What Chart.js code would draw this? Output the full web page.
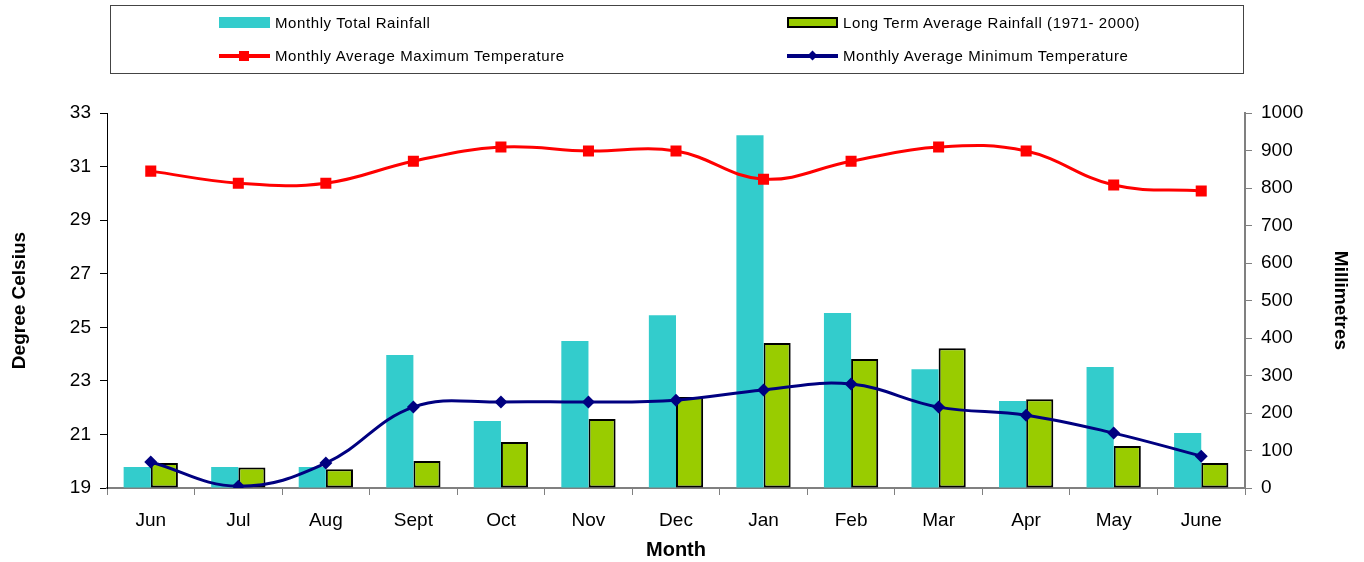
<!DOCTYPE html>
<html>
<head>
<meta charset="utf-8">
<script src="https://cdn.jsdelivr.net/npm/chart.js@4/dist/chart.umd.min.js"></script>
<style>
  html, body { margin: 0; padding: 0; background: #fff; }
  #wrap { position: relative; width: 1364px; height: 562px; }
  #legend {
    position: absolute; left: 110px; top: 5px; width: 1134px; height: 69px;
    border: 1px solid #444; box-sizing: border-box;
    font-family: "Liberation Sans", Arial, sans-serif; font-size: 15px; letter-spacing: 0.6px; color: #000;
  }
  .item { position: absolute; height: 16px; line-height: 16px; white-space: nowrap; }
  .sw { position: absolute; left: 0; top: 2px; width: 51px; height: 11px; box-sizing: border-box; }
  .ln { position: absolute; left: 0; top: 6px; width: 51px; height: 4px; }
  .mk { position: absolute; left: 20px; }
  .txt { position: absolute; left: 56px; top: 0; }
</style>
</head>
<body>
<div id="wrap">
  <canvas id="chart_1" width="1364" height="562"></canvas>
  <div id="legend"></div>
</div>
<script>
console.log("draw rainfall / temperature chart");

var months = ['Jun', 'Jul', 'Aug', 'Sept', 'Oct', 'Nov', 'Dec', 'Jan', 'Feb', 'Mar', 'Apr', 'May', 'June'];
var totalRainfall = [56, 56, 56, 355, 179, 392, 461, 941, 467, 317, 232, 323, 147];
var avgRainfall = [67, 55, 50, 72, 123, 184, 243, 387, 344, 373, 237, 112, 67];
var maxTemp = [30.83, 30.38, 30.38, 31.2, 31.73, 31.58, 31.58, 30.53, 31.2, 31.73, 31.58, 30.31, 30.09];
var minTemp = [19.97, 19.07, 19.93, 22.02, 22.21, 22.21, 22.28, 22.66, 22.88, 22.02, 21.72, 21.05, 20.19];
var celsiusTicks = [19, 21, 23, 25, 27, 29, 31, 33];
var mmTicks = [0, 100, 200, 300, 400, 500, 600, 700, 800, 900, 1000];

var FONT = '"Liberation Sans", Arial, sans-serif';

function drawChart_1() {
  var ctx_1 = document.getElementById("chart_1").getContext('2d');
  var chart_1 = new Chart(ctx_1, {
    type: 'bar',
    data: {
      labels: months,
      datasets: [{
          type: 'line',
          label: 'Monthly Average Maximum Temperature',
          data: maxTemp,
          yAxisID: 'yT',
          borderColor: '#FF0000',
          backgroundColor: '#FF0000',
          borderWidth: 3,
          tension: 0.4,
          pointStyle: 'rect',
          pointRadius: 7.8,
          pointBorderWidth: 0,
          order: 0
        },
        {
          type: 'line',
          label: 'Monthly Average Minimum Temperature',
          data: minTemp,
          yAxisID: 'yT',
          borderColor: '#000080',
          backgroundColor: '#000080',
          borderWidth: 3,
          tension: 0.4,
          pointStyle: 'rectRot',
          pointRadius: 6.5,
          pointBorderWidth: 0,
          order: 1
        },
        {
          label: 'Monthly Total Rainfall',
          data: totalRainfall,
          yAxisID: 'yR',
          backgroundColor: '#33CCCC',
          borderWidth: 0,
          categoryPercentage: 0.62,
          barPercentage: 1.0,
          order: 2
        },
        {
          label: 'Long Term Average Rainfall (1971- 2000)',
          data: avgRainfall,
          yAxisID: 'yR',
          backgroundColor: '#99CC00',
          borderColor: '#000000',
          borderWidth: 2,
          borderSkipped: false,
          categoryPercentage: 0.62,
          barPercentage: 1.0,
          order: 3
        }]
    },
    options: {
      responsive: false,
      animation: false,
      layout: { padding: { left: 0, right: 0, top: 113, bottom: 0 } },
      plugins: { legend: { display: false }, tooltip: { enabled: false } },
      scales: {
        x: {
          grid: { drawOnChartArea: false, drawTicks: true, tickLength: 7, color: '#808080' },
          border: { color: '#808080', width: 2 },
          ticks: { color: '#000', font: { family: FONT, size: 19 }, padding: 14, maxRotation: 0, autoSkip: false },
          title: { display: true, text: 'Month', color: '#000', font: { family: FONT, size: 20, weight: 'bold' }, padding: { top: 0, bottom: 0 } },
          afterFit: function(s) { s.height = 74; }
        },
        yT: {
          position: 'left',
          min: 19, max: 33,
          afterBuildTicks: function(s) { s.ticks = celsiusTicks.map(function(v) { return { value: v }; }); },
          grid: { drawOnChartArea: false, tickLength: 7, color: '#000' },
          border: { color: '#000', width: 1 },
          ticks: { color: '#000', font: { family: FONT, size: 19 }, padding: 9, callback: function(v) { return String(v); } },
          title: { display: true, text: 'Degree Celsius', color: '#000', font: { family: FONT, size: 19, weight: 'bold' }, padding: { top: 8, bottom: 0 } },
          afterFit: function(s) { s.width = 107; }
        },
        yR: {
          position: 'right',
          min: 0, max: 1000,
          afterBuildTicks: function(s) { s.ticks = mmTicks.map(function(v) { return { value: v }; }); },
          grid: { drawOnChartArea: false, tickLength: 7, color: '#808080' },
          border: { color: '#808080', width: 2 },
          ticks: { color: '#000', font: { family: FONT, size: 19 }, padding: 9, callback: function(v) { return String(v); } },
          title: { display: true, text: 'Millimetres', color: '#000', font: { family: FONT, size: 19, weight: 'bold' }, padding: { top: 12, bottom: 0 } },
          afterFit: function(s) { s.width = 119; }
        }
      }
    }
  });
  return chart_1;
}

function buildLegend(chart) {
  var box = document.getElementById('legend');
  // two columns, two rows: bars in first row, lines in second
  var slots = { 2: [108, 9], 3: [676, 9], 0: [108, 42], 1: [676, 42] };
  chart.data.datasets.forEach(function(ds, i) {
    var it = document.createElement('div');
    it.className = 'item';
    it.style.left = slots[i][0] + 'px';
    it.style.top = slots[i][1] + 'px';
    var html = '';
    if (ds.type === 'line') {
      html += '<span class="ln" style="background:' + ds.borderColor + '"></span>';
      if (ds.pointStyle === 'rect') {
        html += '<span class="mk" style="top:3px;width:10px;height:10px;background:' + ds.borderColor + '"></span>';
      } else {
        html += '<span class="mk" style="top:4px;left:22px;width:7px;height:7px;transform:rotate(45deg);background:' + ds.borderColor + '"></span>';
      }
    } else {
      var b = ds.borderWidth ? 'border:2px solid ' + ds.borderColor + ';' : '';
      html += '<span class="sw" style="background:' + ds.backgroundColor + ';' + b + '"></span>';
    }
    html += '<span class="txt">' + ds.label + '</span>';
    it.innerHTML = html;
    box.appendChild(it);
  });
}

var c1 = drawChart_1();
buildLegend(c1);
console.log("end script chart_1");
</script>
</body>
</html>
